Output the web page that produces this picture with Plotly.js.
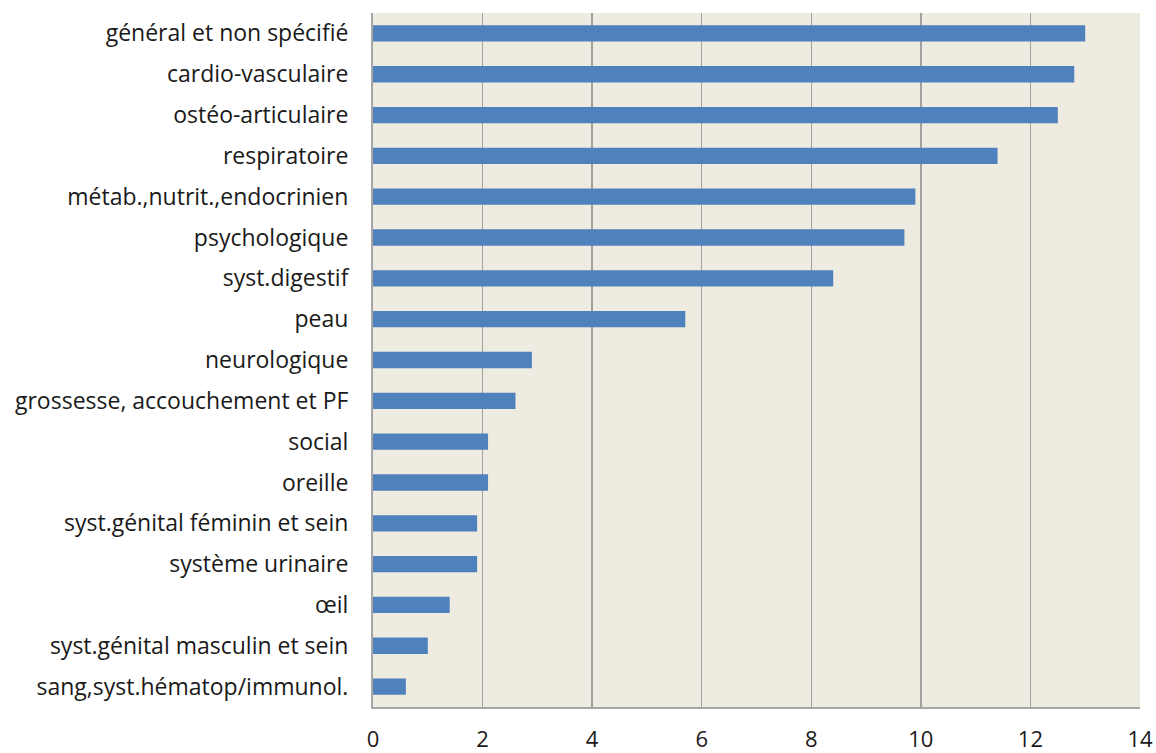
<!DOCTYPE html>
<html><head><meta charset="utf-8">
<script src="https://cdn.plot.ly/plotly-3.0.1.min.js"></script>
<style>body{margin:0;background:#fff}#c{width:1156px;height:753px}</style>
</head><body><div id="c"></div>
<script>
const categories = [
  "général et non spécifié","cardio-vasculaire","ostéo-articulaire","respiratoire",
  "métab.,nutrit.,endocrinien","psychologique","syst.digestif","peau","neurologique",
  "grossesse, accouchement et PF","social","oreille","syst.génital féminin et sein",
  "système urinaire","œil","syst.génital masculin et sein","sang,syst.hématop/immunol."
];
const values = [13.0,12.8,12.5,11.4,9.9,9.7,8.4,5.7,2.9,2.6,2.1,2.1,1.9,1.9,1.4,1.0,0.6];
const xTicks = [0,2,4,6,8,10,12,14];

Plotly.newPlot('c',[{
  type:'bar', orientation:'h', x:values, y:categories,
  marker:{color:'#4F81BD'}, width:0.4, hoverinfo:'none'
}],{
  width:1156,height:753,
  margin:{l:373,r:16,t:13,b:46},
  paper_bgcolor:'#ffffff', plot_bgcolor:'#EEEBE0',
  font:{family:'Open Sans, sans-serif',size:23,color:'#1a1a1a'},
  showlegend:false,
  xaxis:{range:[0,14],tickvals:xTicks,ticktext:xTicks.map(String),gridcolor:'#A0A0A0',gridwidth:1.5,
    tickfont:{size:22},
    zeroline:false,showline:true,linecolor:'#A6A6A6',linewidth:2,ticks:'',ticklabelstandoff:12,fixedrange:true},
  yaxis:{autorange:'reversed',showline:true,linecolor:'#A6A6A6',linewidth:2,ticks:'',ticklabelstandoff:18,
    showgrid:false,fixedrange:true}
},{displayModeBar:false,staticPlot:true});
</script></body></html>
